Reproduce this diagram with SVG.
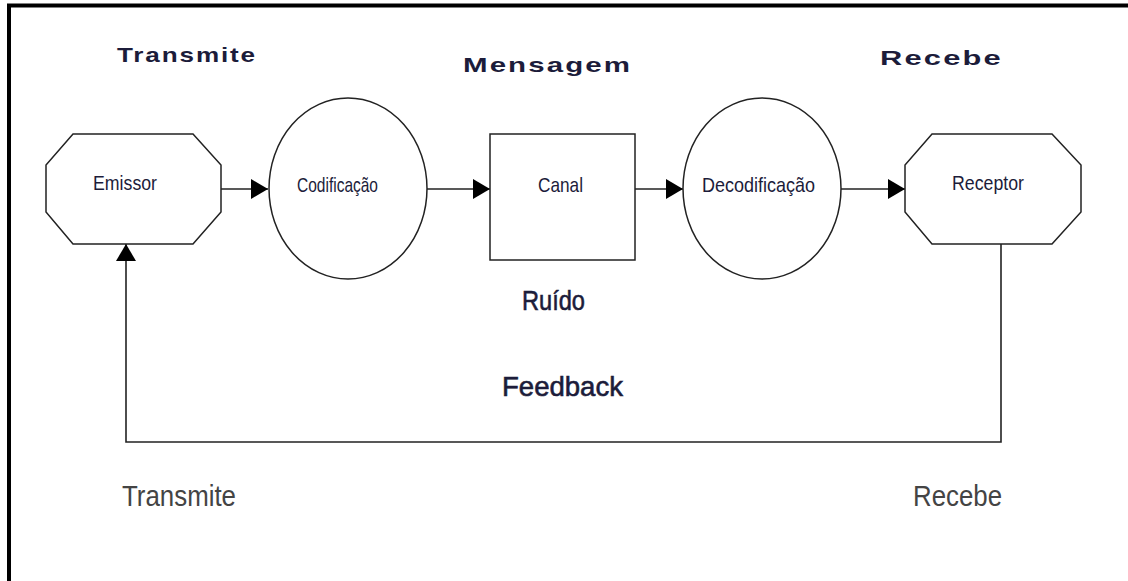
<svg xmlns="http://www.w3.org/2000/svg" width="1128" height="581" viewBox="0 0 1128 581">
  <style>
    .shape { fill: #ffffff; stroke: #222222; stroke-width: 1.5; }
    .link { fill: none; stroke: #222222; stroke-width: 1.6; }
    .frame { fill: none; stroke: #000000; stroke-width: 4; }
    .head { font-family: "Liberation Sans", Arial, sans-serif; font-weight: bold; font-size: 21px; letter-spacing: 1.5px; fill: #1c1c3a; }
    .label { font-family: "Liberation Sans", Arial, sans-serif; font-size: 21px; fill: #1c1c3a; }
    .big { font-family: "Liberation Sans", Arial, sans-serif; font-size: 28px; fill: #1c1c3a; stroke: #1c1c3a; stroke-width: 0.6; }
    .foot { font-family: "Liberation Sans", Arial, sans-serif; font-size: 29px; fill: #444444; }
  </style>
  <defs>
    <marker id="arrow" viewBox="0 0 17 20" refX="17" refY="10" markerWidth="17" markerHeight="20" markerUnits="userSpaceOnUse" orient="auto">
      <path d="M0,0 L17,10 L0,20 Z" fill="#000000"/>
    </marker>
  </defs>

  <rect width="1128" height="581" fill="#ffffff"/>

  <!-- outer frame -->
  <path class="frame" d="M9,581 L9,5.5 L1128,5.5"/>

  <!-- headings -->
  <text class="head" x="117" y="62" textLength="140" lengthAdjust="spacingAndGlyphs">Transmite</text>
  <text class="head" x="463" y="72" textLength="169" lengthAdjust="spacingAndGlyphs">Mensagem</text>
  <text class="head" x="880" y="65" textLength="123" lengthAdjust="spacingAndGlyphs">Recebe</text>

  <!-- connectors -->
  <g id="connectors">
    <line class="link" x1="221" y1="189" x2="268" y2="189" marker-end="url(#arrow)"/>
    <line class="link" x1="427" y1="189" x2="490" y2="189" marker-end="url(#arrow)"/>
    <line class="link" x1="635" y1="189" x2="683" y2="189" marker-end="url(#arrow)"/>
    <line class="link" x1="841" y1="189" x2="905" y2="189" marker-end="url(#arrow)"/>
    <polyline class="link" points="1001,244 1001,442 126,442 126,244" marker-end="url(#arrow)"/>
  </g>

  <!-- nodes -->
  <g id="emissor">
    <polygon class="shape" points="73,134 193,134 221,165 221,212 193,244 73,244 46,212 46,165"/>
    <text class="label" x="93" y="190" textLength="64" lengthAdjust="spacingAndGlyphs">Emissor</text>
  </g>
  <g id="codificacao">
    <ellipse class="shape" cx="348" cy="188.5" rx="79" ry="90.5"/>
    <text class="label" x="297" y="192" textLength="81" lengthAdjust="spacingAndGlyphs">Codificação</text>
  </g>
  <g id="canal">
    <rect class="shape" x="490" y="134" width="145" height="126"/>
    <text class="label" x="538" y="192" textLength="45" lengthAdjust="spacingAndGlyphs">Canal</text>
  </g>
  <g id="decodificacao">
    <ellipse class="shape" cx="762" cy="188.5" rx="79" ry="90.5"/>
    <text class="label" x="702" y="192" textLength="113" lengthAdjust="spacingAndGlyphs">Decodificação</text>
  </g>
  <g id="receptor">
    <polygon class="shape" points="932,134 1052,134 1081,165 1081,212 1052,244 932,244 905,212 905,165"/>
    <text class="label" x="952" y="190" textLength="72" lengthAdjust="spacingAndGlyphs">Receptor</text>
  </g>

  <!-- annotations -->
  <text class="big" x="522" y="310" textLength="63" lengthAdjust="spacingAndGlyphs">Ruído</text>
  <text class="big" x="502" y="396" textLength="121" lengthAdjust="spacingAndGlyphs">Feedback</text>
  <text class="foot" x="122" y="506" textLength="114" lengthAdjust="spacingAndGlyphs">Transmite</text>
  <text class="foot" x="913" y="506" textLength="89" lengthAdjust="spacingAndGlyphs">Recebe</text>
</svg>
